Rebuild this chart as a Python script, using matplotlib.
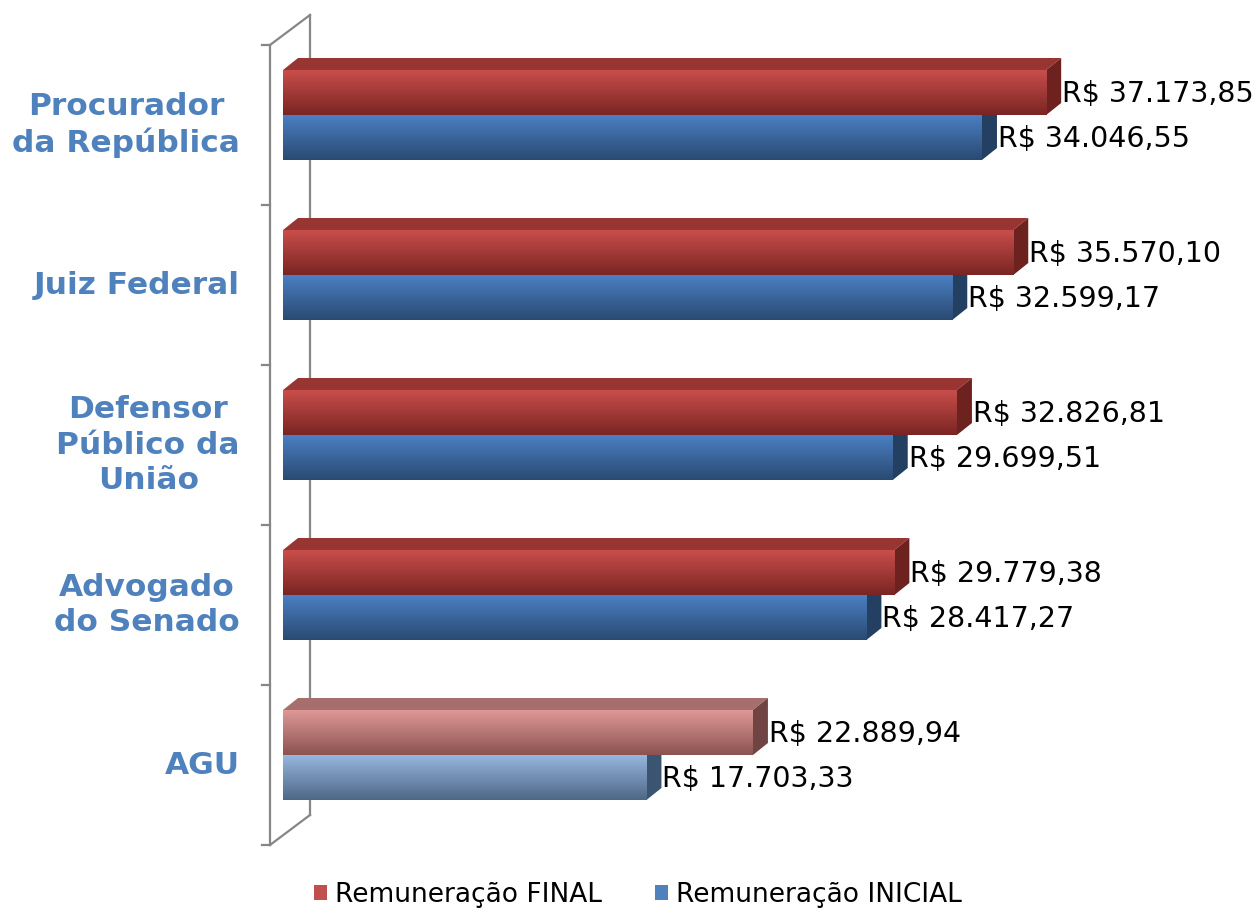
import matplotlib
matplotlib.use("Agg")
import matplotlib.pyplot as plt
import numpy as np
from matplotlib.colors import LinearSegmentedColormap
from matplotlib.patches import Polygon, Patch

# data (top to bottom as in the picture)
categories = ["Procurador\nda República", "Juiz Federal", "Defensor\nPúblico da\nUnião",
              "Advogado\ndo Senado", "AGU"]
final_vals = [37173.85, 35570.10, 32826.81, 29779.38, 22889.94]
inicial_vals = [34046.55, 32599.17, 29699.51, 28417.27, 17703.33]
series_names = ["Remuneração FINAL", "Remuneração INICIAL"]

# styles: normal bars and the lighter AGU bars
red = dict(top="#C84E4B", bot="#7A2523", face="#983532", side="#6E2220")
blue = dict(top="#4A7FC2", bot="#2A4A72", face="#3A639A", side="#233F62")
red_l = dict(top="#DE9896", bot="#8C5351", face="#A66F6D", side="#704442")
blue_l = dict(top="#97B6DE", bot="#4E6886", face="#7790B0", side="#3B5472")
light = ["AGU"]

W, H = 1257, 910
fig = plt.figure(figsize=(W / 100, H / 100), dpi=100)
ax = fig.add_axes([0, 0, 1, 1])
ax.axis("off")

# pixel mapping of the plot area
scale = 0.02053      # px per R$
x0_px = 283          # px of value 0
row_px = 160         # px per category
y0_px = 755          # px of the last category centre
xlim = (-x0_px / scale, (W - x0_px) / scale)
ylim = ((y0_px - H) / row_px, y0_px / row_px)

h = 45 / row_px      # bar thickness
dx, dy = 15 / scale, 12 / row_px          # bar depth
wx, wy = 40 / scale, 30 / row_px          # wall depth
wall_x = -13 / scale


def grad_bar(x1, yb, yt, st):
    cmap = LinearSegmentedColormap.from_list("g", [st["top"], st["bot"]])
    g = np.linspace(0, 1, 64).reshape(-1, 1)
    ax.imshow(g, cmap=cmap, extent=[0, x1, yb, yt], aspect="auto",
              interpolation="bilinear", zorder=3)


n = len(categories)
ypos = np.arange(n)[::-1]

# wall
ticks = np.arange(-1, n) + 0.4375
ax.plot([wall_x, wall_x], [ticks[0], ticks[-1]], color="#868686", lw=1.6, zorder=1)
ax.plot([wall_x + wx, wall_x + wx], [ticks[0] + wy, ticks[-1] + wy], color="#868686", lw=1.6, zorder=1)
ax.plot([wall_x, wall_x + wx], [ticks[-1], ticks[-1] + wy], color="#868686", lw=1.6, zorder=1)
ax.plot([wall_x, wall_x + wx], [ticks[0], ticks[0] + wy], color="#868686", lw=1.6, zorder=1)
for t in ticks:
    ax.plot([wall_x - 8 / scale, wall_x], [t, t], color="#868686", lw=1.6, zorder=1)

for cat, y, vf, vi in zip(categories, ypos, final_vals, inicial_vals):
    sr, sb = (red_l, blue_l) if cat in light else (red, blue)
    # blue (INICIAL) below the centre line
    ax.add_patch(Polygon([(vi, y - h), (vi, y), (vi + dx, y + dy), (vi + dx, y - h + dy)],
                         closed=True, fc=sb["side"], ec="none", zorder=2))
    grad_bar(vi, y - h, y, sb)
    # red (FINAL) above it
    ax.add_patch(Polygon([(0, y + h), (vf, y + h), (vf + dx, y + h + dy), (dx, y + h + dy)],
                         closed=True, fc=sr["face"], ec="none", zorder=2))
    ax.add_patch(Polygon([(vf, y), (vf, y + h), (vf + dx, y + h + dy), (vf + dx, y + dy)],
                         closed=True, fc=sr["side"], ec="none", zorder=2))
    grad_bar(vf, y, y + h, sr)

    for v, yc in ((vf, y + h / 2), (vi, y - h / 2)):
        txt = "R$ " + f"{v:,.2f}".replace(",", "X").replace(".", ",").replace("X", ".")
        ax.text(v + dx + 1 / scale, yc - 0.012, txt, fontsize=20.5, color="black",
                ha="left", va="center", zorder=5)

    ax.text(-43 / scale, y - 0.0625, cat, fontsize=22.5, fontweight="bold", color="#4F81BD",
            ha="right", va="center", multialignment="center", linespacing=1.27, zorder=5)

ax.set_xlim(*xlim)
ax.set_ylim(*ylim)

handles = [Patch(fc="#C0504D", ec="none"), Patch(fc="#4F81BD", ec="none")]
fig.legend(handles, series_names, loc="center", bbox_to_anchor=(638 / W, 1 - 895 / H),
           ncol=2, frameon=False, fontsize=19, handlelength=0.5, handleheight=0.5,
           handletextpad=0.3, columnspacing=2.0)

fig.savefig("out.png", dpi=100)
